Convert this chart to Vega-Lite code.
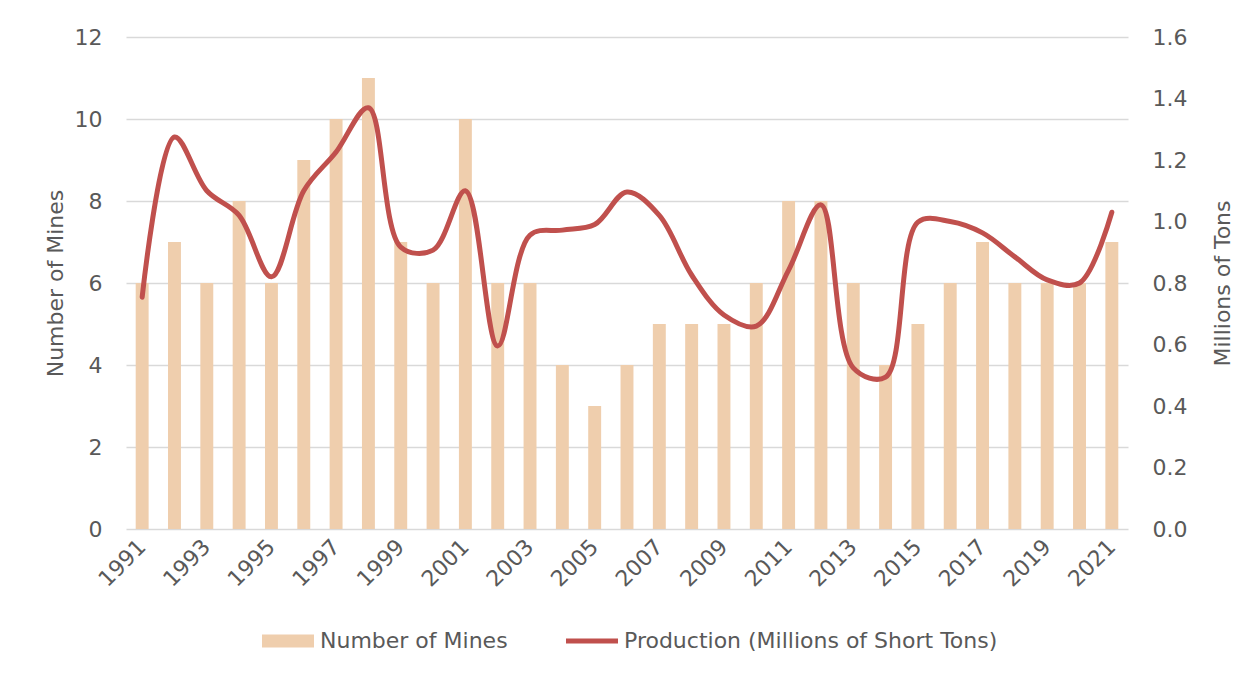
{
  "$schema": "https://vega.github.io/schema/vega-lite/v6.json",
  "width": 1002,
  "height": 492,
  "autosize": {"type": "none"},
  "padding": {"left": 126, "top": 37, "right": 122, "bottom": 146},
  "config": {
    "font": "DejaVu Sans",
    "view": {"stroke": null},
    "axis": {"labelColor": "#595959", "titleColor": "#595959", "labelFontSize": 22, "titleFontSize": 22, "titleFontWeight": "normal", "ticks": false, "domain": false, "gridColor": "#D9D9D9", "gridWidth": 1.5},
    "legend": {"labelColor": "#595959", "labelFontSize": 22, "labelLimit": 0}
  },
  "data": {"values": [
    {"year": 1991, "mines": 6, "production": 0.754},
    {"year": 1992, "mines": 7, "production": 1.275},
    {"year": 1993, "mines": 6, "production": 1.10},
    {"year": 1994, "mines": 8, "production": 1.02},
    {"year": 1995, "mines": 6, "production": 0.82},
    {"year": 1996, "mines": 9, "production": 1.10},
    {"year": 1997, "mines": 10, "production": 1.226},
    {"year": 1998, "mines": 11, "production": 1.37},
    {"year": 1999, "mines": 7, "production": 0.917},
    {"year": 2000, "mines": 6, "production": 0.907},
    {"year": 2001, "mines": 10, "production": 1.10},
    {"year": 2002, "mines": 6, "production": 0.595},
    {"year": 2003, "mines": 6, "production": 0.956},
    {"year": 2004, "mines": 4, "production": 0.972},
    {"year": 2005, "mines": 3, "production": 0.99},
    {"year": 2006, "mines": 4, "production": 1.096},
    {"year": 2007, "mines": 5, "production": 1.02},
    {"year": 2008, "mines": 5, "production": 0.826},
    {"year": 2009, "mines": 5, "production": 0.696},
    {"year": 2010, "mines": 6, "production": 0.66},
    {"year": 2011, "mines": 8, "production": 0.842},
    {"year": 2012, "mines": 8, "production": 1.054},
    {"year": 2013, "mines": 6, "production": 0.524},
    {"year": 2014, "mines": 4, "production": 0.494},
    {"year": 2015, "mines": 5, "production": 0.998},
    {"year": 2016, "mines": 6, "production": 1.0},
    {"year": 2017, "mines": 7, "production": 0.963},
    {"year": 2018, "mines": 6, "production": 0.885},
    {"year": 2019, "mines": 6, "production": 0.81},
    {"year": 2020, "mines": 6, "production": 0.80},
    {"year": 2021, "mines": 7, "production": 1.03}
  ]},
  "encoding": {
    "x": {
      "field": "year", "type": "ordinal",
      "scale": {"paddingInner": 0.6, "paddingOuter": 0.3},
      "axis": {"title": null, "grid": false, "labelAngle": -45, "labelAlign": "right", "labelBaseline": "middle", "labelPadding": 14,
        "values": [1991,1993,1995,1997,1999,2001,2003,2005,2007,2009,2011,2013,2015,2017,2019,2021]}
    }
  },
  "layer": [
    {
      "mark": {"type": "bar"},
      "encoding": {
        "y": {"field": "mines", "type": "quantitative", "scale": {"domain": [0, 12]},
          "axis": {"title": "Number of Mines", "values": [0,2,4,6,8,10,12], "labelPadding": 24, "titlePadding": 7}},
        "color": {"datum": "Number of Mines", "type": "nominal",
          "scale": {"domain": ["Number of Mines", "Production (Millions of Short Tons)"], "range": ["#EFCEAD", "#C0504D"]},
          "legend": {"title": null, "orient": "none", "legendX": 136, "legendY": 578, "direction": "horizontal", "columnPadding": 58, "labelOffset": 6, "padding": 0,
            "symbolSize": 2704, "symbolStrokeWidth": 0,
            "encode": {"symbols": {"update": {
              "shape": {"signal": "datum.value === 'Number of Mines' ? 'M-1,-0.25H1V0.25H-1Z' : 'M-1,-0.1H1V0.1H-1Z'"},
              "fill": {"scale": "color", "field": "value"},
              "stroke": {"value": "transparent"},
              "opacity": {"value": 1}
            }}}}
        }
      }
    },
    {
      "mark": {"type": "line", "interpolate": "catmull-rom", "strokeWidth": 5, "strokeCap": "round"},
      "encoding": {
        "y": {"field": "production", "type": "quantitative", "scale": {"domain": [0, 1.6]},
          "axis": {"orient": "right", "grid": false, "title": "Millions of Tons", "format": ".1f", "values": [0,0.2,0.4,0.6,0.8,1.0,1.2,1.4,1.6], "labelPadding": 24, "titlePadding": 26, "titleAngle": 270, "titleBaseline": "top"}},
        "color": {"datum": "Production (Millions of Short Tons)", "type": "nominal"}
      }
    }
  ],
  "resolve": {"scale": {"y": "independent"}}
}
